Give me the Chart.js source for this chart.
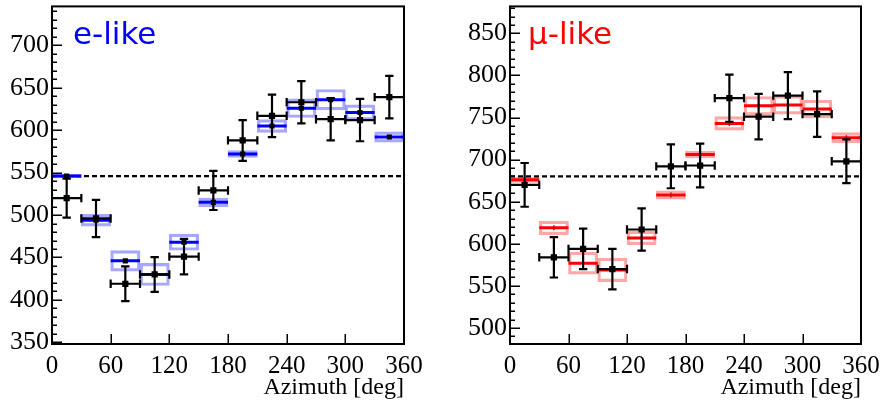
<!DOCTYPE html>
<html><head><meta charset="utf-8">
<script src="https://cdn.jsdelivr.net/npm/chart.js@4"></script>
<style>
html,body{margin:0;padding:0;background:#fff;}
#wrap{position:relative;width:882px;height:405px;background:#fff;}
.c{position:absolute;top:0;width:441px;height:405px;}
</style></head><body>
<div id="wrap">
<div class="c" style="left:0"><canvas id="cE" width="441" height="405"></canvas></div>
<div class="c" style="left:441px"><canvas id="cM" width="441" height="405"></canvas></div>
</div>
<script>
// ---- data (azimuth bins, degrees) ----
const binLow    = [0, 30, 60, 90, 120, 150, 180, 210, 240, 270, 300, 330];
const binHigh   = [30, 60, 90, 120, 150, 180, 210, 240, 270, 300, 330, 360];
const binCenter = [15, 45, 75, 105, 135, 165, 195, 225, 255, 285, 315, 345];
const xTickValues = [0, 60, 120, 180, 240, 300, 360];

// e-like
const mcE      = [546, 494, 446, 430, 468, 515, 572, 605, 626, 636, 621, 592];
const mcErrE   = [2, 7, 12, 13, 9.5, 5, 4, 7.5, 11, 12, 9, 6];
const dataE    = [520, 496, 419, 430, 451, 529, 588, 617, 633, 613, 612, 639];
const dataErrE = [23, 22, 20.5, 20.5, 21, 23, 24, 25, 25, 25, 25, 25];
const avgE = 546;

// mu-like
const mcM      = [676, 619, 577, 569, 607, 658, 706, 743, 764, 765, 760, 726];
const mcErrM   = [3, 8, 13, 14, 8, 5, 4, 8, 11, 11, 10.5, 6];
const dataM    = [670, 584, 594, 570, 617, 692, 693, 773, 751, 776, 754, 698];
const dataErrM = [26, 24, 24, 24, 25, 26, 26, 28, 27, 28, 27, 26];
const avgM = 680;

// ---- helpers ----
function hSegments(vals) {
  const out = [];
  binLow.forEach((lo, i) => { out.push({x: lo, y: vals[i]}, {x: binHigh[i], y: vals[i]}, {x: binHigh[i], y: null}); });
  return out;
}
function vSegments(vals, errs) {
  const out = [];
  binCenter.forEach((c, i) => { out.push({x: c, y: vals[i] - errs[i]}, {x: c, y: vals[i] + errs[i]}, {x: c, y: null}); });
  return out;
}

const framePlugin = {
  id: 'frame',
  afterDatasetsDraw(chart, args, opts) {
    const {ctx, chartArea: a, scales: {x, y}} = chart;
    ctx.save();
    ctx.strokeStyle = '#000';
    ctx.lineWidth = 1.5;
    ctx.beginPath();
    y.ticks.forEach(t => {
      const py = Math.round(y.getPixelForValue(t.value)) + 0.25;
      const len = (t.value % 50 === 0) ? 10 : 5;
      ctx.moveTo(a.left, py); ctx.lineTo(a.left + len, py);
    });
    x.ticks.forEach(t => {
      const px = Math.round(x.getPixelForValue(t.value)) + 0.25;
      ctx.moveTo(px, a.bottom); ctx.lineTo(px, a.bottom - 10);
    });
    ctx.stroke();
    ctx.lineWidth = 2;
    ctx.strokeRect(a.left, a.top, a.right - a.left, a.bottom - a.top);
    ctx.fillStyle = opts.color;
    ctx.font = '31px "DejaVu Sans"';
    ctx.textBaseline = 'alphabetic';
    ctx.fillText(opts.label, a.left + opts.dx, a.top + 38);
    ctx.restore();
  }
};

function makeChart(id, p) {
  const datasets = [
    { type: 'bar', data: binCenter.map((c, i) => ({x: c, y: [p.mc[i] - p.mcErr[i], p.mc[i] + p.mcErr[i]]})),
      backgroundColor: 'rgba(0,0,0,0)', borderColor: p.boxColor, borderWidth: 2.5, borderSkipped: false,
      barPercentage: 1, categoryPercentage: 1, grouped: false, order: 7 },
    { type: 'line', data: [{x: 0, y: p.avg}, {x: 360, y: p.avg}], borderColor: '#000', borderWidth: 2.2,
      borderDash: [5, 3], pointRadius: 0, order: 6 },
    { type: 'line', data: hSegments(p.mc), borderColor: p.color, borderWidth: 3, pointRadius: 0, spanGaps: false, order: 5 },
    { type: 'line', data: binCenter.map((c, i) => ({x: c, y: p.mc[i]})), showLine: false,
      pointStyle: p.mcMarkStyle, pointRotation: p.mcMarkRot, pointRadius: p.mcMarkR,
      pointBackgroundColor: p.mcMarkColor, pointBorderColor: p.mcMarkColor, pointBorderWidth: p.mcMarkBW, order: 4 },
    { type: 'line', data: hSegments(p.data), borderColor: '#000', borderWidth: 2.2, spanGaps: false,
      pointStyle: 'line', pointRotation: 90, pointRadius: 4.2, pointBorderColor: '#000', pointBorderWidth: 2.2, order: 3 },
    { type: 'line', data: vSegments(p.data, p.dataErr), borderColor: '#000', borderWidth: 2.2, spanGaps: false,
      pointStyle: 'line', pointRotation: 0, pointRadius: 4.2, pointBorderColor: '#000', pointBorderWidth: 2.2, order: 2 },
    { type: 'line', data: binCenter.map((c, i) => ({x: c, y: p.data[i]})), showLine: false,
      pointStyle: 'rect', pointRadius: 4.4, pointBackgroundColor: '#000', pointBorderWidth: 0, order: 1 }
  ];
  return new Chart(document.getElementById(id), {
    type: 'line',
    data: { datasets },
    plugins: [framePlugin],
    options: {
      responsive: false, animation: false, events: [],
      layout: { padding: { left: 0, top: 5, right: p.padRight, bottom: 0 } },
      plugins: { legend: { display: false }, tooltip: { enabled: false },
        frame: { label: p.label, color: p.color, dx: p.labelDx } },
      scales: {
        x: { type: 'linear', min: 0, max: 360, offset: false,
          grid: { display: false, drawTicks: false }, border: { display: false },
          afterBuildTicks: s => { s.ticks = xTickValues.map(v => ({value: v})); },
          ticks: { autoSkip: false, maxRotation: 0, padding: 7, color: '#000',
            font: { family: 'Liberation Serif', size: 25 } },
          title: { display: true, text: 'Azimuth [deg]', align: 'end', color: '#000',
            font: { family: 'Liberation Serif', size: 24 }, padding: { top: 0, bottom: 3 } },
          afterFit: s => { s.height = 61; s.paddingLeft = 0; s.paddingRight = 0; } },
        y: { type: 'linear', min: p.yMin, max: p.yMax,
          grid: { display: false, drawTicks: false }, border: { display: false },
          ticks: { stepSize: 10, includeBounds: false, autoSkip: false, padding: 3, color: '#000',
            font: { family: 'Liberation Serif', size: 26 },
            callback: v => (v % 50 === 0 ? String(v) : '') },
          afterFit: s => { s.width = p.yWidth; s.paddingTop = 0; s.paddingBottom = 0; } }
      }
    }
  });
}

makeChart('cE', { mc: mcE, mcErr: mcErrE, data: dataE, dataErr: dataErrE, avg: avgE,
  color: '#0000ff', boxColor: 'rgba(60,60,255,0.45)', label: 'e-like', labelDx: 21,
  mcMarkStyle: 'rect', mcMarkRot: 0, mcMarkR: 3.6, mcMarkColor: '#000', mcMarkBW: 0,
  yMin: 348, yMax: 746, yWidth: 52, padRight: 37 });
makeChart('cM', { mc: mcM, mcErr: mcErrM, data: dataM, dataErr: dataErrM, avg: avgM,
  color: '#ff0000', boxColor: 'rgba(255,60,60,0.45)', label: 'μ-like', labelDx: 18,
  mcMarkStyle: 'line', mcMarkRot: 90, mcMarkR: 2.5, mcMarkColor: '#d00000', mcMarkBW: 1.5,
  yMin: 481, yMax: 882, yWidth: 69, padRight: 21 });
</script>
</body></html>
